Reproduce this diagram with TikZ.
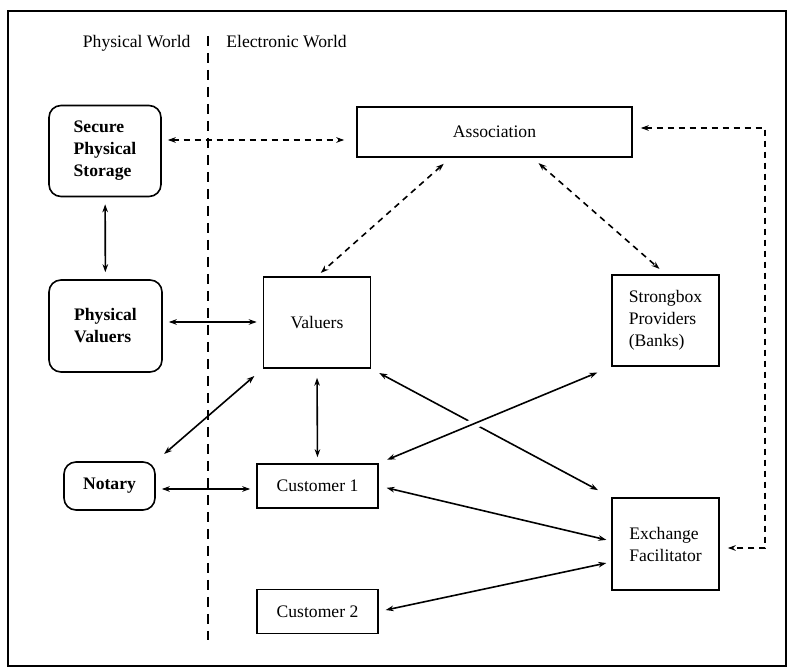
\documentclass[tikz,border=0pt]{standalone}
\usepackage{fontspec}
\setmainfont{Liberation Serif}
\usetikzlibrary{arrows.meta}

\begin{document}
\begin{tikzpicture}[x=0.5pt,y=-0.5pt,line width=0.8pt,
  font=\fontsize{8.8}{11}\selectfont,
  box/.style={draw,inner sep=0pt,align=left},
  rbox/.style={box,rounded corners=6pt,font=\fontsize{8.8}{11}\selectfont\bfseries},
  arr/.style={{Stealth[length=4pt,width=2.8pt]}-{Stealth[length=4pt,width=2.8pt]}},
  darr/.style={arr,dash pattern=on 3pt off 2.5pt}]
\useasboundingbox (0,0) rectangle (789,668);
\draw[line width=0.6pt] (8,11) rectangle (786,666);

% the two worlds
\draw[dash pattern=on 5pt off 3.5pt] (208,36) -- (208,640);
\node[anchor=base east] (phys) at (198,48) {Physical World};
\node[anchor=base west] (elec) at (219,48) {Electronic World};

% physical side
\node[rbox,minimum width=56pt,minimum height=45.5pt] (sps) at (105,151) {Secure\\Physical\\Storage};
\node[rbox,minimum width=56.5pt,minimum height=46pt] (pval) at (105.5,326) {Physical\\Valuers};
\node[rbox,minimum width=45.5pt,minimum height=24pt] (notary) at (109.5,486) {Notary};

% electronic side
\node[box,minimum width=137.5pt,minimum height=25pt] (assoc) at (494.5,132) {Association};
\node[box,minimum width=53.5pt,minimum height=45.5pt] (val) at (317,322.5) {Valuers};
\node[box,minimum width=53.5pt,minimum height=45.5pt] (strong) at (665.5,320.5) {Strongbox\\Providers\\(Banks)};
\node[box,minimum width=60.5pt,minimum height=22pt] (c1) at (317.5,486) {Customer 1};
\node[box,minimum width=60.5pt,minimum height=22pt] (c2) at (317.5,611.5) {Customer 2};
\node[box,minimum width=53.5pt,minimum height=46pt] (exch) at (665.5,544) {Exchange\\Facilitator};

\coordinate (bend1) at (765,128);
\coordinate (bend2) at (765,548);

% dashed links to the association
\draw[darr,shorten <=3pt,shorten >=6pt] (sps.east|-0,140) -- (assoc.west|-0,140);
\draw[darr,shorten <=4.5pt,shorten >=2.5pt] (assoc.south) ++(-44,0) coordinate (a1) (a1) -- (val.north);
\draw[darr,shorten <=4pt,shorten >=4pt] (assoc.south) ++(38,0) coordinate (a2) (a2) -- (strong.north);
\draw[darr,shorten <=4pt,shorten >=4pt] (assoc.east|-bend1) -- (bend1) -- (bend2) -- (exch.east|-bend2);

% solid links
\draw[arr,shorten <=3.5pt,shorten >=3.5pt] (sps) -- (pval);
\draw[arr,shorten <=3pt,shorten >=3pt] (pval.east|-0,322) -- (val.west|-0,322);
\draw[arr,shorten <=5.5pt,shorten >=5.5pt] (val.south west) -- (notary.north east);
\draw[arr,shorten <=4.5pt,shorten >=3pt] (val.south) -- (c1.north);
\draw[arr,shorten <=3pt,shorten >=3pt] (notary.east|-0,489) -- (c1.west|-0,489);
\draw[arr,shorten <=4.5pt,shorten >=7.5pt] (val.south east) -- (exch.north west);
\draw[white,line width=5pt,shorten <=20pt,shorten >=20pt] (strong.south west) -- (c1.north east);
\draw[arr,shorten <=7.5pt,shorten >=4.5pt] (strong.south west) -- (c1.north east);
\draw[arr,shorten <=4pt,shorten >=2.5pt] (c1.east) -- ([yshift=1.5pt]exch.west);
\draw[arr,shorten <=3.5pt,shorten >=2.5pt] (c2.east) -- ([yshift=-9pt]exch.west);
\end{tikzpicture}
\end{document}
